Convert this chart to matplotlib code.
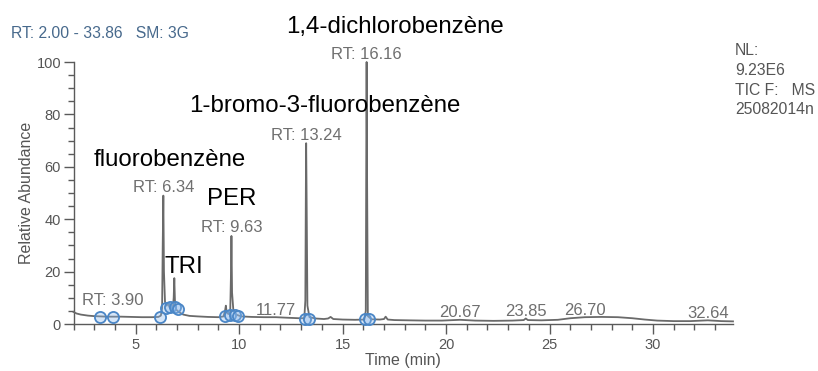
import matplotlib
matplotlib.use("Agg")
import matplotlib.pyplot as plt
from matplotlib.ticker import MultipleLocator

plt.rcParams['font.family'] = ['Liberation Sans', 'DejaVu Sans']

# ---- chromatogram trace (time in min, relative abundance in %) ----
trace_t = [2.00, 2.15, 2.35, 2.70, 3.00, 3.30, 3.60, 3.90, 4.30, 4.80, 5.30, 5.80,
           6.10, 6.22, 6.28, 6.31, 6.34, 6.37, 6.42, 6.50, 6.58, 6.63, 6.70, 6.80,
           6.84, 6.87, 6.90, 6.96, 7.10, 7.30, 7.60, 8.00, 8.50, 9.00, 9.25, 9.33,
           9.36, 9.40, 9.48, 9.57, 9.61, 9.63, 9.66, 9.72, 9.85, 10.10, 10.60, 11.20,
           11.77, 12.30, 12.90, 13.15, 13.20, 13.23, 13.24, 13.26, 13.30, 13.40, 13.70,
           14.10, 14.30, 14.42, 14.55, 15.00, 15.60, 16.05, 16.12, 16.15, 16.16, 16.18,
           16.22, 16.40, 16.80, 17.00, 17.08, 17.18, 17.50, 18.20, 19.00, 19.80, 20.67,
           21.40, 22.30, 23.20, 23.75, 23.85, 23.95, 24.60, 25.40, 26.00, 26.70, 27.50,
           28.30, 29.00, 29.60, 30.20, 31.00, 31.80, 32.64, 33.30, 33.86]
trace_y = [4.6, 4.0, 3.6, 3.2, 3.0, 2.9, 2.8, 2.8, 2.8, 2.7, 2.6, 2.6,
           2.7, 3.2, 6.0, 30.0, 49.0, 20.0, 8.5, 7.0, 8.0, 6.5, 6.0, 6.0,
           10.0, 17.5, 9.0, 5.5, 4.5, 3.6, 3.1, 2.9, 2.7, 2.6, 2.9, 5.5,
           7.0, 4.5, 3.8, 4.5, 20.0, 33.6, 12.0, 5.5, 3.6, 2.9, 2.7, 2.6,
           2.6, 2.4, 2.2, 2.2, 9.0, 60.0, 69.0, 50.0, 7.0, 2.6, 2.1,
           1.9, 2.1, 2.7, 1.9, 1.7, 1.6, 1.7, 5.0, 80.0, 100.0, 60.0,
           3.0, 1.8, 1.7, 1.9, 2.8, 1.7, 1.5, 1.4, 1.3, 1.3, 1.6,
           1.3, 1.2, 1.3, 1.5, 2.1, 1.5, 1.4, 1.6, 2.2, 2.6, 2.7,
           2.6, 2.2, 1.7, 1.3, 1.1, 1.1, 1.4, 1.1, 1.0]

# ---- retention-time labels ----
main_rt = [6.34, 9.63, 13.24, 16.16]
main_height = [49.0, 33.6, 69.0, 100.0]

minor_rt = [3.90, 11.77, 20.67, 23.85, 26.70, 32.64]
minor_label_y = [7.3, 3.4, 2.8, 3.1, 3.5, 2.4]
minor_prefix = ["RT: ", "", "", "", "", ""]

# ---- integration boundary markers ----
marker_t = [3.28, 3.92, 6.20, 6.49, 6.66, 6.90, 7.06, 9.33, 9.55, 9.78, 9.95,
            13.17, 13.40, 16.06, 16.26]
marker_y = [2.8, 2.8, 2.7, 6.0, 6.5, 6.3, 5.6, 3.0, 3.3, 3.5, 3.1,
            1.9, 1.9, 1.8, 1.8]

# ---- compound names ----
compounds = ["1,4-dichlorobenzène", "1-bromo-3-fluorobenzène", "fluorobenzène", "PER", "TRI"]
compound_px = [(395.5, 33.0), (325.0, 111.7), (169.5, 166.0), (231.5, 205.0), (184.0, 273.3)]

W, H = 818, 371
fig = plt.figure(figsize=(W / 100, H / 100), dpi=100)
ax = fig.add_axes([73.5 / W, 1 - 324 / H, (733 - 73.5) / W, 262 / H])

trace_color = '#6a6a6a'
axis_color = '#5a5a5a'
ax.plot(trace_t, trace_y, color=trace_color, lw=1.3, clip_on=False, zorder=3)
ax.plot(marker_t, marker_y, 'o', ms=8, mfc=(0.55, 0.72, 0.92, 0.35),
        mec='#4a86c6', mew=1.3, clip_on=False, zorder=4)

ax.set_xlim(2.0, 33.86)
ax.set_ylim(0, 100)

for s in ('top', 'right'):
    ax.spines[s].set_visible(False)
for s in ('left', 'bottom'):
    ax.spines[s].set_color(axis_color)
    ax.spines[s].set_linewidth(1.0)

ax.xaxis.set_major_locator(MultipleLocator(5))
ax.xaxis.set_minor_locator(MultipleLocator(1))
ax.yaxis.set_major_locator(MultipleLocator(20))
ax.yaxis.set_minor_locator(MultipleLocator(5))
ax.tick_params(which='major', length=7, width=1.0, color=axis_color,
               labelcolor='#555555', labelsize=10.5, pad=2)
ax.tick_params(which='minor', length=4, width=1.0, color=axis_color)
ax.tick_params(axis='x', which='major', pad=3)

ax.set_xlabel('Time (min)', fontsize=11.5, color='#555555', labelpad=1)
ax.set_ylabel('Relative Abundance', fontsize=11.5, color='#555555', labelpad=2)

label_gray = '#6f6f6f'
for rt, h in zip(main_rt, main_height):
    ax.annotate(f"RT: {rt:.2f}", xy=(rt, h), xytext=(0, 2.5), textcoords='offset points',
                ha='center', va='baseline', fontsize=12, color=label_gray,
                annotation_clip=False)

for rt, ly, pre in zip(minor_rt, minor_label_y, minor_prefix):
    ax.text(rt, ly, f"{pre}{rt:.2f}", ha='center', va='baseline', fontsize=12,
            color=label_gray, clip_on=False)

for name, (px, py) in zip(compounds, compound_px):
    fig.text(px / W, 1 - py / H, name, ha='center', va='baseline',
             fontsize=17.3, color='black')

fig.text(11 / W, 1 - 38 / H, "RT: 2.00 - 33.86   SM: 3G", ha='left', va='baseline',
         fontsize=11.3, color='#47698c')

nl_lines = ["NL:", "9.23E6", "TIC F:   MS", "25082014n"]
nl_baselines = [55, 75, 95, 114]
for txt, b in zip(nl_lines, nl_baselines):
    fig.text(735 / W, 1 - b / H, txt, ha='left', va='baseline', fontsize=11.3,
             color='#555555')

fig.savefig('out.png', dpi=100)
